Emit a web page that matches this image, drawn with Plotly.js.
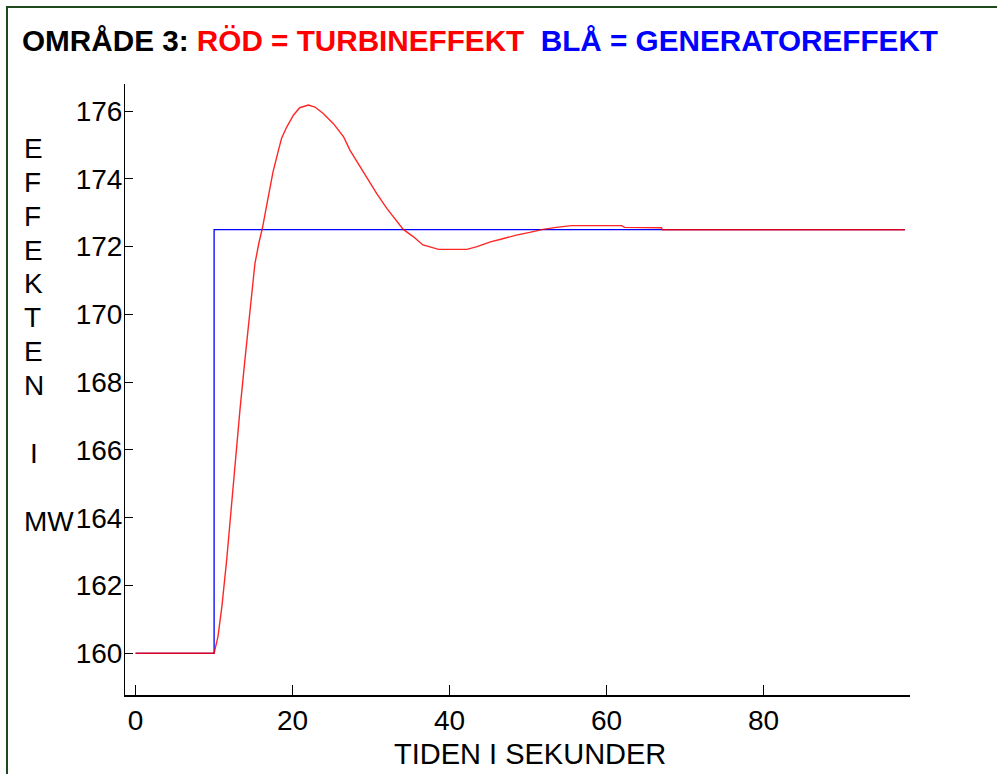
<!DOCTYPE html>
<html>
<head>
<meta charset="utf-8">
<script src="https://cdn.plot.ly/plotly-3.0.1.min.js"></script>
<style>
  html, body { margin: 0; padding: 0; background: #ffffff; }
  #chart { width: 997px; height: 774px; }
</style>
</head>
<body>
<div id="chart"></div>
<script>
// ---- data ----
const genTime = [0, 10, 10, 98];
const genPower = [160, 160, 172.5, 172.5];

const turbTime = [0, 10, 10.5, 11.0, 11.6, 12.2, 12.7, 13.3, 13.9, 14.4, 14.8, 15.2, 15.7, 16.2, 16.6, 17.1, 17.5, 18.2, 18.6, 19.25, 20.1, 20.9, 22.0, 22.85, 23.9, 25.2, 26.5, 27.3, 28.2, 29.4, 30.7, 32.0, 33.3, 34.1, 35.4, 36.6, 38.6, 42.2, 43.5, 45.2, 46.4, 48.5, 50.2, 51.9, 53.6, 55.5, 61.9, 62.3, 67.0, 67.1, 98];
const turbPower = [160, 160, 160.5, 161.4, 162.75, 164.4, 165.8, 167.2, 168.6, 169.8, 170.7, 171.5, 172.1, 172.6, 173.1, 173.7, 174.2, 174.85, 175.2, 175.53, 175.88, 176.1, 176.18, 176.12, 175.93, 175.63, 175.24, 174.85, 174.5, 174.06, 173.57, 173.13, 172.73, 172.51, 172.29, 172.05, 171.92, 171.92, 172.0, 172.14, 172.21, 172.34, 172.42, 172.51, 172.57, 172.62, 172.62, 172.57, 172.56, 172.5, 172.5];

const xTicks = [0, 20, 40, 60, 80];
const yTicks = [160, 162, 164, 166, 168, 170, 172, 174, 176];

// vertical y-axis label letters and the value level each sits at
const yLabelLetters = ["E", "F", "F", "E", "K", "T", "E", "N", "I", "MW"];
const yLabelLevels  = [174.9, 173.9, 172.9, 171.9, 170.9, 169.9, 168.9, 167.9, 165.9, 163.9];

const titleText = "OMRÅDE 3: <span style='color:#ff0000'>RÖD = TURBINEFFEKT</span>\u00A0\u00A0<span style='color:#0000ff'>BLÅ = GENERATOREFFEKT</span>";
const xTitleText = "TIDEN I SEKUNDER";

// ---- layout geometry ----
const W = 997, H = 774;
const L = 125, R = 87, T = 84, B = 79;
const PW = W - L - R, PH = H - T - B;
const px2paperX = px => (px - L) / PW;
const py2paperY = py => (H - B - py) / PH;

const FONT = "Liberation Sans, Arial, sans-serif";

const traces = [
  {
    x: genTime, y: genPower, type: "scatter", mode: "lines",
    line: { color: "#0000ff", width: 1.3 }, hoverinfo: "skip", showlegend: false
  },
  {
    x: turbTime, y: turbPower, type: "scatter", mode: "lines",
    line: { color: "rgba(255,0,0,0.85)", width: 1.4 }, hoverinfo: "skip", showlegend: false
  }
];

const annotations = yLabelLetters.map((t, i) => ({
  text: t,
  xref: "paper", yref: "y",
  x: t === "I" ? px2paperX(34) : px2paperX(22),
  xanchor: t === "I" ? "center" : "left",
  y: yLabelLevels[i], yanchor: "middle",
  showarrow: false,
  font: { family: FONT, size: 28, color: "#000000" }
}));
annotations.push({
  text: xTitleText,
  xref: "paper", yref: "paper",
  x: px2paperX(530), xanchor: "center",
  y: py2paperY(754), yanchor: "middle",
  showarrow: false,
  font: { family: FONT, size: 29, color: "#000000" }
});

const layout = {
  width: W, height: H,
  margin: { l: L, r: R, t: T, b: B, pad: 0 },
  paper_bgcolor: "#ffffff",
  plot_bgcolor: "#ffffff",
  showlegend: false,
  title: {
    text: titleText,
    xref: "container", yref: "container",
    x: 22 / W, xanchor: "left",
    y: 1 - 41 / H, yanchor: "middle",
    font: { family: FONT, size: 29.7, color: "#000000", weight: "bold" }
  },
  xaxis: {
    range: [-1.35, 98.65],
    tickmode: "array", tickvals: xTicks, ticktext: xTicks.map(String),
    ticks: "inside", ticklen: 10, tickwidth: 1, tickcolor: "#000000",
    showline: true, linecolor: "#000000", linewidth: 1.5,
    showgrid: false, zeroline: false,
    tickfont: { family: FONT, size: 28, color: "#000000" }
  },
  yaxis: {
    range: [158.77, 176.8],
    tickmode: "array", tickvals: yTicks, ticktext: yTicks.map(String),
    ticks: "inside", ticklen: 8, tickwidth: 1, tickcolor: "#000000",
    ticklabelstandoff: -4,
    showline: true, linecolor: "#000000", linewidth: 1,
    showgrid: false, zeroline: false,
    tickfont: { family: FONT, size: 28, color: "#000000" }
  },
  shapes: [{
    type: "rect", xref: "paper", yref: "paper",
    x0: px2paperX(7), x1: px2paperX(1010),
    y0: py2paperY(790), y1: py2paperY(7),
    line: { color: "#1e4a1e", width: 2 }, fillcolor: "rgba(0,0,0,0)",
    layer: "below"
  }],
  annotations: annotations
};

Plotly.newPlot("chart", traces, layout, { displayModeBar: false, staticPlot: true });
</script>
</body>
</html>
